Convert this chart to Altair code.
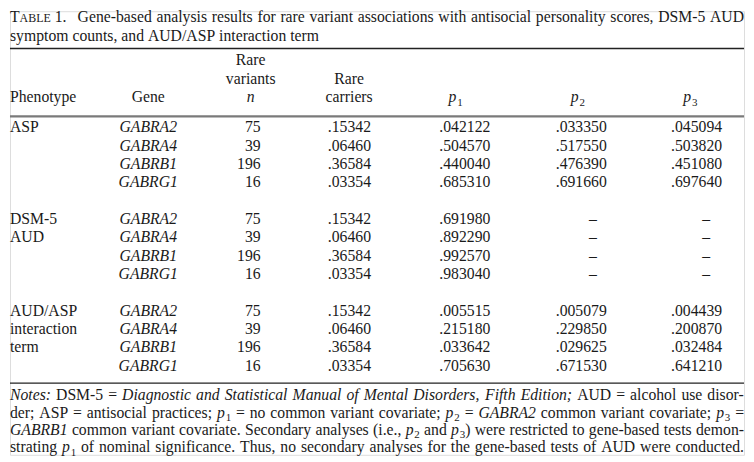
import altair as alt
import pandas as pd

# ---------------- data ----------------
caption_label = ["T", "ABLE", "1."]
caption_line1 = "Gene-based analysis results for rare variant associations with antisocial personality scores, DSM-5 AUD"
caption_line2 = "symptom counts, and AUD/ASP interaction term"

header_phenotype = "Phenotype"
header_gene = "Gene"
header_variants = ["Rare", "variants", "n"]
header_carriers = ["Rare", "carriers"]
header_p = [("p", "1"), ("p", "2"), ("p", "3")]

phenotype_lines = [["ASP"], ["DSM-5", "AUD"], ["AUD/ASP", "interaction", "term"]]
genes = ["GABRA2", "GABRA4", "GABRB1", "GABRG1"]
n_variants = [75, 39, 196, 16]
carriers = [0.15342, 0.06460, 0.36584, 0.03354]
p1 = [[0.042122, 0.504570, 0.440040, 0.685310],
      [0.691980, 0.892290, 0.992570, 0.983040],
      [0.005515, 0.215180, 0.033642, 0.705630]]
p2 = [[0.033350, 0.517550, 0.476390, 0.691660],
      None,
      [0.005079, 0.229850, 0.029625, 0.671530]]
p3 = [[0.045094, 0.503820, 0.451080, 0.697640],
      None,
      [0.004439, 0.200870, 0.032484, 0.641210]]
dash = "\u2013"

# notes: markup where *...* is italic and _x is a subscript
notes_lines = [
    "*Notes:* DSM-5 = *Diagnostic* *and* *Statistical* *Manual* *of* *Mental* *Disorders,* *Fifth* *Edition;* AUD = alcohol use disor-",
    "der; ASP = antisocial practices; *p*_1 = no common variant covariate; *p*_2 = *GABRA2* common variant covariate; *p*_3 =",
    "*GABRB1* common variant covariate. Secondary analyses (i.e., *p*_2 and *p*_3) were restricted to gene-based tests demon-",
    "strating *p*_1 of nominal significance. Thus, no secondary analyses for the gene-based tests of AUD were conducted.",
]

# ---------------- style / layout (page pixels) ----------------
FONT = "Liberation Serif"
INK = "#1a1a1a"
FS = 15.8
FS_SMALL = 12
FS_SUB = 11
SUB_DROP = 3.6
SUB_GAP = 0.8
LEFT, RIGHT = 8, 746

col_gene = 147
col_n_right = 260
col_n_head = 250
col_carr_right = 371
col_carr_head = 349
col_p_right = [491, 608, 724]
col_p_head = [456, 579, 692]
col_dash = [594, 708]

cap_y = [19, 37.5]
rule_top = 45.5
head_y = [62, 80.7, 99.5]
rule_head = 113.8
row0 = 129.8
row_step = 18.44
rule_bottom = 382
note_y = [399.2, 416.6, 434.0, 451.2]

# Times-compatible advance widths (1/1000 em)
_UP_N = dict(zip("ABCDEFGHIJKLMNOPQRSTUVWXYZ",
                 [722, 667, 667, 722, 611, 556, 722, 722, 333, 389, 722, 611, 889, 722, 722, 556, 722, 667, 556, 611, 722, 722, 944, 722, 722, 611]))
_LO_N = dict(zip("abcdefghijklmnopqrstuvwxyz",
                 [444, 500, 444, 500, 444, 333, 500, 500, 278, 278, 500, 278, 778, 500, 500, 500, 500, 333, 389, 278, 500, 500, 722, 500, 500, 444]))
_UP_I = dict(zip("ABCDEFGHIJKLMNOPQRSTUVWXYZ",
                 [611, 611, 667, 722, 611, 611, 722, 722, 333, 444, 667, 556, 833, 667, 722, 611, 722, 611, 500, 556, 722, 611, 833, 611, 556, 556]))
_LO_I = dict(zip("abcdefghijklmnopqrstuvwxyz",
                 [500, 500, 444, 500, 444, 278, 500, 500, 278, 278, 444, 278, 722, 500, 500, 500, 500, 389, 389, 278, 500, 444, 667, 444, 444, 389]))
_PUN_N = {" ": 250, "(": 333, ")": 333, ",": 250, "-": 333, ".": 250, "/": 278, ":": 278, ";": 278, "=": 564}
_PUN_I = {" ": 250, "(": 333, ")": 333, ",": 250, "-": 333, ".": 250, "/": 278, ":": 333, ";": 333, "=": 675}


def text_width(t, size, italic=False):
    up, lo, pun = (_UP_I, _LO_I, _PUN_I) if italic else (_UP_N, _LO_N, _PUN_N)
    w = 0
    for ch in t:
        if ch.isdigit():
            w += 500
        else:
            w += up.get(ch, lo.get(ch, pun.get(ch, 500)))
    return w * size / 1000.0


def parse_word(word):
    """Split a markup word into pieces (text, kind) with kind in n/i/s."""
    pieces = []
    i = 0
    while i < len(word):
        if word[i] == "*":
            j = word.index("*", i + 1)
            pieces.append((word[i + 1:j], "i"))
            i = j + 1
        elif word[i] == "_":
            pieces.append((word[i + 1], "s"))
            i += 2
        else:
            j = i
            while j < len(word) and word[j] not in "*_":
                j += 1
            pieces.append((word[i:j], "n"))
            i = j
    return pieces


def piece_width(t, kind):
    if kind == "s":
        return text_width(t, FS_SUB) + SUB_GAP
    return text_width(t, FS, italic=(kind == "i"))


buckets = {}


def add(text, x, y, size=FS, style="normal", align="left"):
    buckets.setdefault((size, style, align), []).append({"text": text, "x": x, "y": y})


def set_line(markup, x0, x1, y, justify=True):
    words = [parse_word(w) for w in markup.split(" ")]
    widths = [sum(piece_width(t, k) for t, k in w) for w in words]
    space = text_width(" ", FS)
    if justify and len(words) > 1:
        space = (x1 - x0 - sum(widths)) / (len(words) - 1)
    x = x0
    for w, ww in zip(words, widths):
        px = x
        for t, k in w:
            if k == "s":
                add(t, px + SUB_GAP, y + SUB_DROP, size=FS_SUB)
            else:
                add(t, px, y, style="italic" if k == "i" else "normal")
            px += piece_width(t, k)
        x += ww + space


def fmt(v, d):
    return f"{v:.{d}f}".lstrip("0")


# caption
x = LEFT
add(caption_label[0], x, cap_y[0])
x += text_width(caption_label[0], FS)
add(caption_label[1], x, cap_y[0], size=FS_SMALL)
x += text_width(caption_label[1], FS_SMALL) + text_width(" ", FS)
add(caption_label[2], x, cap_y[0])
set_line(caption_line1, 76, RIGHT, cap_y[0])
set_line(caption_line2, LEFT, RIGHT, cap_y[1], justify=False)

# header
add(header_phenotype, LEFT, head_y[2])
add(header_gene, col_gene, head_y[2], align="center")
add(header_variants[0], col_n_head, head_y[0], align="center")
add(header_variants[1], col_n_head, head_y[1], align="center")
add(header_variants[2], col_n_head, head_y[2], style="italic", align="center")
add(header_carriers[0], col_carr_head, head_y[1], align="center")
add(header_carriers[1], col_carr_head, head_y[2], align="center")
for (pl, sub), c in zip(header_p, col_p_head):
    wp = text_width(pl, FS, italic=True)
    ws = text_width(sub, FS_SUB) + SUB_GAP
    x0 = c - (wp + ws) / 2
    add(pl, x0, head_y[2], style="italic")
    add(sub, x0 + wp + SUB_GAP, head_y[2] + SUB_DROP, size=FS_SUB)

# body
for g, lines in enumerate(phenotype_lines):
    base = g * 5
    for k, t in enumerate(lines):
        add(t, LEFT, row0 + (base + k) * row_step)
    for r in range(4):
        y = row0 + (base + r) * row_step
        add(genes[r], col_gene, y, style="italic", align="center")
        add(str(n_variants[r]), col_n_right, y, align="right")
        add(fmt(carriers[r], 5), col_carr_right, y, align="right")
        add(fmt(p1[g][r], 6), col_p_right[0], y, align="right")
        for j, arr in ((1, p2), (2, p3)):
            if arr[g] is None:
                add(dash, col_dash[j - 1], y, align="center")
            else:
                add(fmt(arr[g][r], 6), col_p_right[j], y, align="right")

# notes
for li, line in enumerate(notes_lines):
    set_line(line, LEFT, RIGHT, note_y[li])

X = alt.X("x:Q", scale=alt.Scale(domain=[8, 746], nice=False, zero=False), axis=None)
Y = alt.Y("y:Q", scale=alt.Scale(domain=[8, 454], nice=False, zero=False, reverse=True), axis=None)

layers = []
for (size, style, align), rows in buckets.items():
    layers.append(
        alt.Chart(pd.DataFrame(rows)).mark_text(
            font=FONT, fontSize=size, fontStyle=style, align=align,
            baseline="alphabetic", color=INK
        ).encode(x=X, y=Y, text="text:N")
    )

rules_black = pd.DataFrame({"x": [LEFT, LEFT], "x2": [RIGHT, RIGHT], "y": [rule_top, rule_bottom]})
rules_gray = pd.DataFrame({"x": [LEFT], "x2": [RIGHT], "y": [rule_head]})
layers.append(alt.Chart(rules_black).mark_rule(color="#222222", strokeWidth=1.3).encode(
    x=X, x2="x2:Q", y=Y))
layers.append(alt.Chart(rules_gray).mark_rule(color="#7a7a7a", strokeWidth=2.2).encode(
    x=X, x2="x2:Q", y=Y))

chart = alt.layer(*layers).properties(
    width=738, height=446, padding=0
).configure_view(stroke=None).configure(background="white")

chart.save("out.html", embed_options={"renderer": "svg", "actions": False})
